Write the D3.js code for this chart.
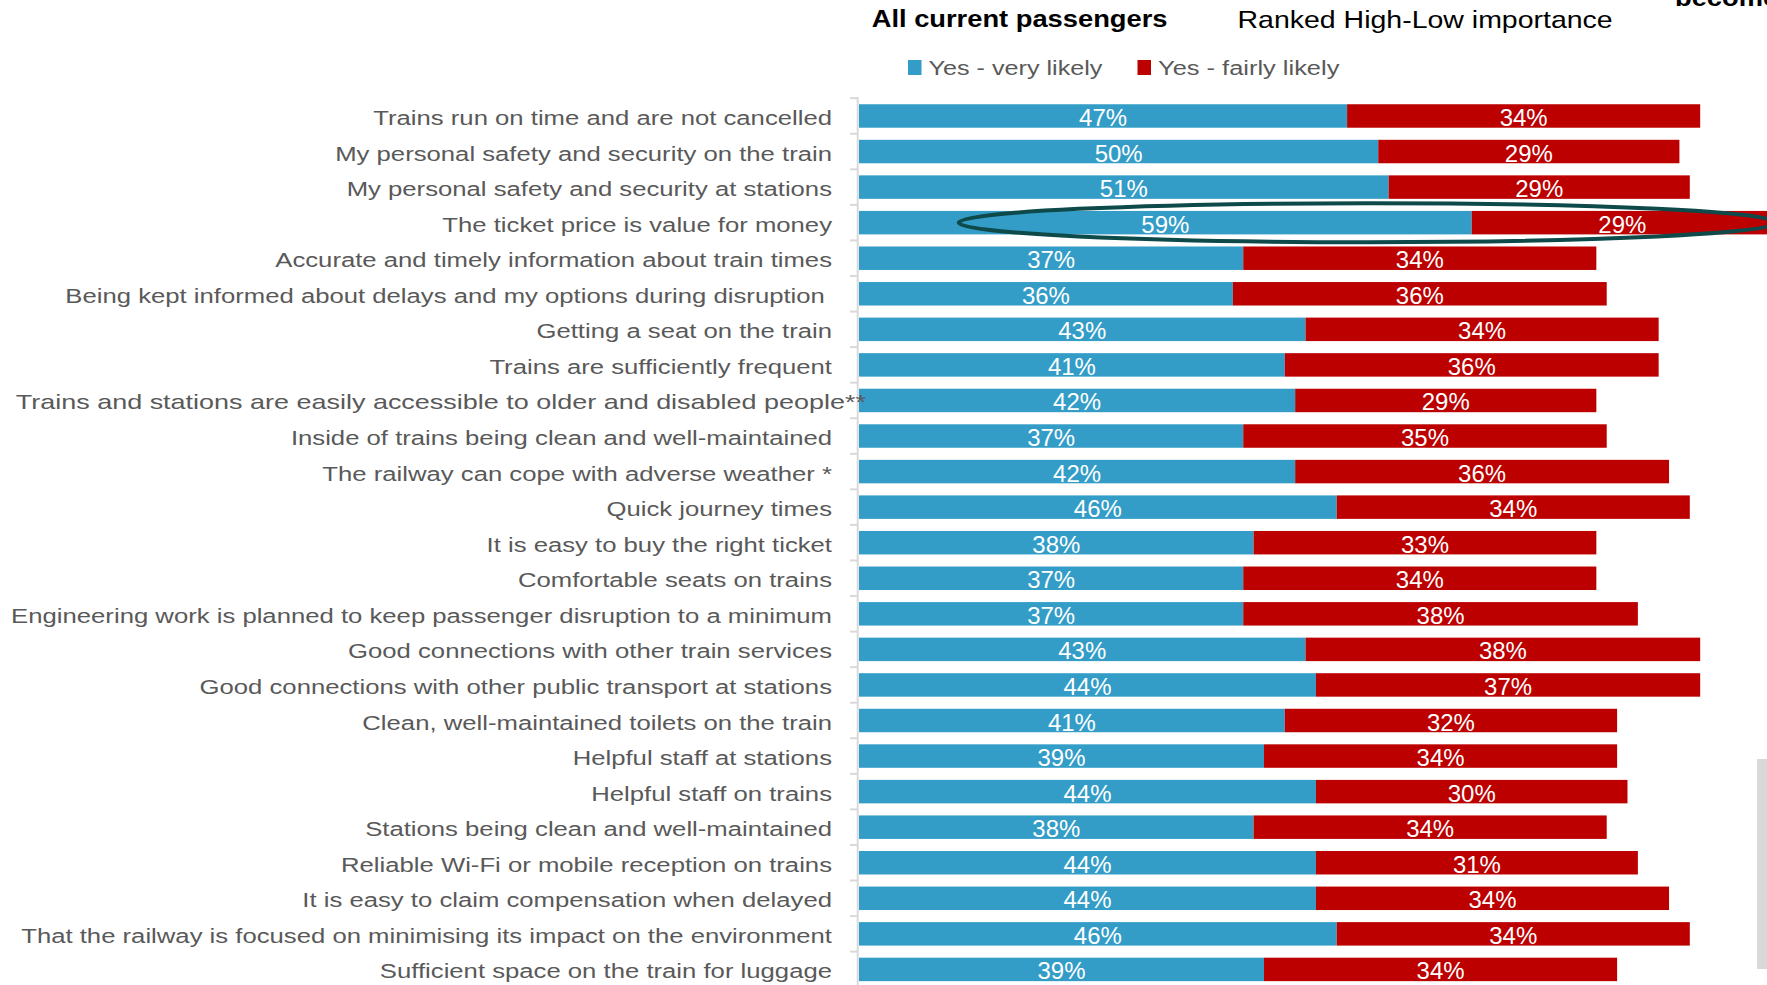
<!DOCTYPE html>
<html>
<head>
<meta charset="utf-8">
<script src="https://cdn.jsdelivr.net/npm/d3@7/dist/d3.min.js"></script>
<style>
  html, body { margin: 0; padding: 0; background: #fff; overflow: hidden; }
  svg { display: block; }
  text { white-space: pre; }
</style>
</head>
<body>
<svg id="chart" width="1767" height="985"></svg>
<script>
// ---------- DATA ----------
const categories = [
  "Trains run on time and are not cancelled",
  "My personal safety and security on the train",
  "My personal safety and security at stations",
  "The ticket price is value for money",
  "Accurate and timely information about train times",
  "Being kept informed about delays and my options during disruption ",
  "Getting a seat on the train",
  "Trains are sufficiently frequent",
  "Trains and stations are easily accessible to older and disabled people**",
  "Inside of trains being clean and well-maintained",
  "The railway can cope with adverse weather *",
  "Quick journey times",
  "It is easy to buy the right ticket",
  "Comfortable seats on trains",
  "Engineering work is planned to keep passenger disruption to a minimum",
  "Good connections with other train services",
  "Good connections with other public transport at stations",
  "Clean, well-maintained toilets on the train",
  "Helpful staff at stations",
  "Helpful staff on trains",
  "Stations being clean and well-maintained",
  "Reliable Wi-Fi or mobile reception on trains",
  "It is easy to claim compensation when delayed",
  "That the railway is focused on minimising its impact on the environment",
  "Sufficient space on the train for luggage"
];
const veryLikely   = [47, 50, 51, 59, 37, 36, 43, 41, 42, 37, 42, 46, 38, 37, 37, 43, 44, 41, 39, 44, 38, 44, 44, 46, 39];
const fairlyLikely = [34, 29, 29, 29, 34, 36, 34, 36, 29, 35, 36, 34, 33, 34, 38, 38, 37, 32, 34, 30, 34, 31, 34, 34, 34];
const seriesNames  = ["Yes - very likely", "Yes - fairly likely"];
const titleText    = "All current passengers";
const subtitleText = "Ranked High-Low importance";
const highlighted  = "The ticket price is value for money";

// ---------- STYLE ----------
const colors = ["#339DC7", "#BC0000"];
const FONT = "'Liberation Sans', Arial, sans-serif";
const svg = d3.select("#chart");

const x = d3.scaleLinear().domain([0, 100]).range([859, 859 + 1038.5]);
const y = d3.scaleBand().domain(categories).range([98.2, 987.2])
  .paddingInner(0.34).paddingOuter(0.17);

const rows = categories.map((c, i) => ({ cat: c, v: veryLikely[i], f: fairlyLikely[i] }));

function measure(txt, size, weight) {
  const t = svg.append("text").attr("font-family", FONT).attr("font-size", size)
    .attr("font-weight", weight || "normal").text(txt);
  const w = t.node().getComputedTextLength();
  t.remove();
  return w;
}

// ---------- BARS ----------
const g = svg.append("g");
rows.forEach(r => {
  const segs = [
    { x0: 0, x1: r.v, c: colors[0] },
    { x0: r.v, x1: r.v + r.f, c: colors[1] }
  ];
  segs.forEach(s => {
    g.append("rect")
      .attr("x", x(s.x0)).attr("y", y(r.cat))
      .attr("width", x(s.x1) - x(s.x0)).attr("height", y.bandwidth())
      .attr("fill", s.c);
  });
});

// data labels
const dlSx = 48 / measure("47%", 23);
rows.forEach(r => {
  [[0, r.v, r.v], [r.v, r.v + r.f, r.f]].forEach(([a, b, val]) => {
    const cx = (x(a) + x(b)) / 2;
    const cy = y(r.cat) + y.bandwidth() / 2 + 10;
    svg.append("text")
      .attr("transform", `translate(${cx},${cy}) scale(${dlSx},1)`)
      .attr("text-anchor", "middle")
      .attr("font-family", FONT).attr("font-size", 23)
      .attr("fill", "#fff").text(val + "%");
  });
});

// ---------- AXIS ----------
const step = y.step();
const axisG = svg.append("g");
axisG.append("line").attr("x1", 857.7).attr("x2", 857.7)
  .attr("y1", 97.3).attr("y2", 987.2).attr("stroke", "#D9D9D9").attr("stroke-width", 2);
categories.forEach(c => {
  const yy = y(c) - (step - y.bandwidth()) / 2;
  axisG.append("line").attr("x1", 850).attr("x2", 858).attr("y1", yy).attr("y2", yy)
    .attr("stroke", "#D9D9D9").attr("stroke-width", 2);
});

// category labels
const labSx = 459 / measure(categories[0], 21);
const labelNudge = { "Trains and stations are easily accessible to older and disabled people**": 34 };
const labelStretch = { "Trains and stations are easily accessible to older and disabled people**": 1.05 };
categories.forEach(c => {
  const xx = 832 + (labelNudge[c] || 0);
  const yy = y(c) + y.bandwidth() / 2 + 9;
  svg.append("text")
    .attr("transform", `translate(${xx},${yy}) scale(${labSx * (labelStretch[c] || 1)},1)`)
    .attr("text-anchor", "end")
    .attr("font-family", FONT).attr("font-size", 21)
    .attr("fill", "#595959").text(c);
});

// ---------- HIGHLIGHT ELLIPSE ----------
const hy = y(highlighted) + y.bandwidth() / 2;
const hx0 = x(9.6), hx1 = x(88.4);
svg.append("ellipse")
  .attr("cx", (hx0 + hx1) / 2).attr("cy", hy)
  .attr("rx", (hx1 - hx0) / 2).attr("ry", 19.5)
  .attr("fill", "none").attr("stroke", "#0E4A4A").attr("stroke-width", 4);

// ---------- TITLES ----------
const tSx = 296 / measure(titleText, 24, "bold");
svg.append("text")
  .attr("transform", `translate(871.7,27.3) scale(${tSx},1)`)
  .attr("font-family", FONT).attr("font-size", 24).attr("font-weight", "bold")
  .attr("fill", "#000").text(titleText);
const sSx = 375.5 / measure(subtitleText, 24);
svg.append("text")
  .attr("transform", `translate(1237.5,27.5) scale(${sSx},1)`)
  .attr("font-family", FONT).attr("font-size", 24)
  .attr("fill", "#000").text(subtitleText);
svg.append("text")
  .attr("transform", `translate(1675,5.5) scale(${tSx},1)`)
  .attr("font-family", FONT).attr("font-size", 24).attr("font-weight", "bold")
  .attr("fill", "#000").text("become");

// ---------- LEGEND ----------
const legX = [908, 1137.5];
const legW = [174, 181.5];
seriesNames.forEach((n, i) => {
  svg.append("rect").attr("x", legX[i]).attr("y", 60).attr("width", 13.5).attr("height", 15)
    .attr("fill", colors[i]);
  const sx = legW[i] / measure(n, 21);
  svg.append("text")
    .attr("transform", `translate(${legX[i] + 20.5},75) scale(${sx},1)`)
    .attr("font-family", FONT).attr("font-size", 21)
    .attr("fill", "#595959").text(n);
});

// right-edge grey strip
svg.append("rect").attr("x", 1757).attr("y", 759).attr("width", 10).attr("height", 210)
  .attr("fill", "#D9D9D9");
</script>
</body>
</html>
